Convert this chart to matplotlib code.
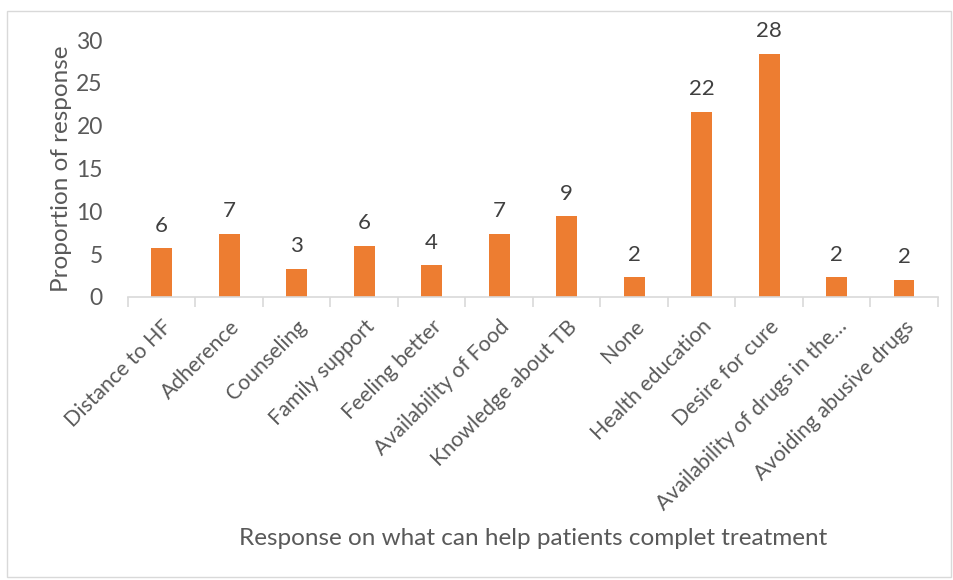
# Gráfico de barras: respostas sobre o que ajuda o paciente a completar o tratamento

import matplotlib.pyplot as plt
from matplotlib.patches import Rectangle

plt.rcParams['font.family'] = ['Lato', 'DejaVu Sans']

# Dados
categorias = ['Distance to HF', 'Adherence', 'Counseling', 'Family support',
              'Feeling better', 'Availability of Food', 'Knowledge about TB',
              'None', 'Health education', 'Desire for cure',
              'Availability of drugs in the…', 'Avoiding abusive drugs']
valores = [5.7, 7.4, 3.3, 6.0, 3.7, 7.4, 9.4, 2.3, 21.6, 28.4, 2.3, 2.0]
rotulos = ['6', '7', '3', '6', '4', '7', '9', '2', '22', '28', '2', '2']

laranja = '#ED7D31'
cinza_texto = '#595959'
cinza_linha = '#D9D9D9'

fig = plt.figure(figsize=(9.54, 5.80), dpi=100)
ax = fig.add_axes([0.134, 0.488, 0.849, 0.443])

x = list(range(len(categorias)))
barras = ax.bar(x, valores, width=0.31, color=laranja)

# Rótulos de valor acima das barras
ax.bar_label(barras, labels=rotulos, padding=9, fontsize=16, color='#404040')

ax.set_xlim(-0.5, len(categorias) - 0.5)
ax.set_ylim(0, 30)
ax.set_yticks([0, 5, 10, 15, 20, 25, 30])

# Marcas do eixo x entre as categorias
ax.set_xticks([i - 0.5 for i in range(len(categorias) + 1)], minor=False)
ax.set_xticklabels([])
ax.tick_params(axis='x', which='major', length=7, color=cinza_linha, width=1.2)
ax.set_xticks(x, minor=True)
ax.set_xticklabels(categorias, minor=True, rotation=45, ha='right',
                   rotation_mode='anchor', fontsize=15.3, color=cinza_texto)
ax.tick_params(axis='x', which='minor', length=0, pad=14)

ax.tick_params(axis='y', length=0, labelsize=16.5, labelcolor=cinza_texto, pad=18)

for lado in ['top', 'right', 'left']:
    ax.spines[lado].set_visible(False)
ax.spines['bottom'].set_color(cinza_linha)
ax.spines['bottom'].set_linewidth(1.2)

ax.set_ylabel('Proportion of response', fontsize=17.5, color=cinza_texto, labelpad=3)
fig.text(0.559, 0.072, 'Response on what can help patients complet treatment',
         ha='center', va='center', fontsize=17.5, color=cinza_texto)

# Borda da área do gráfico
fig.patches.append(Rectangle((0.007, 0.005), 0.99, 0.976, transform=fig.transFigure,
                             fill=False, edgecolor=cinza_linha, linewidth=1))

plt.savefig('out.png', dpi=100)
plt.close()
